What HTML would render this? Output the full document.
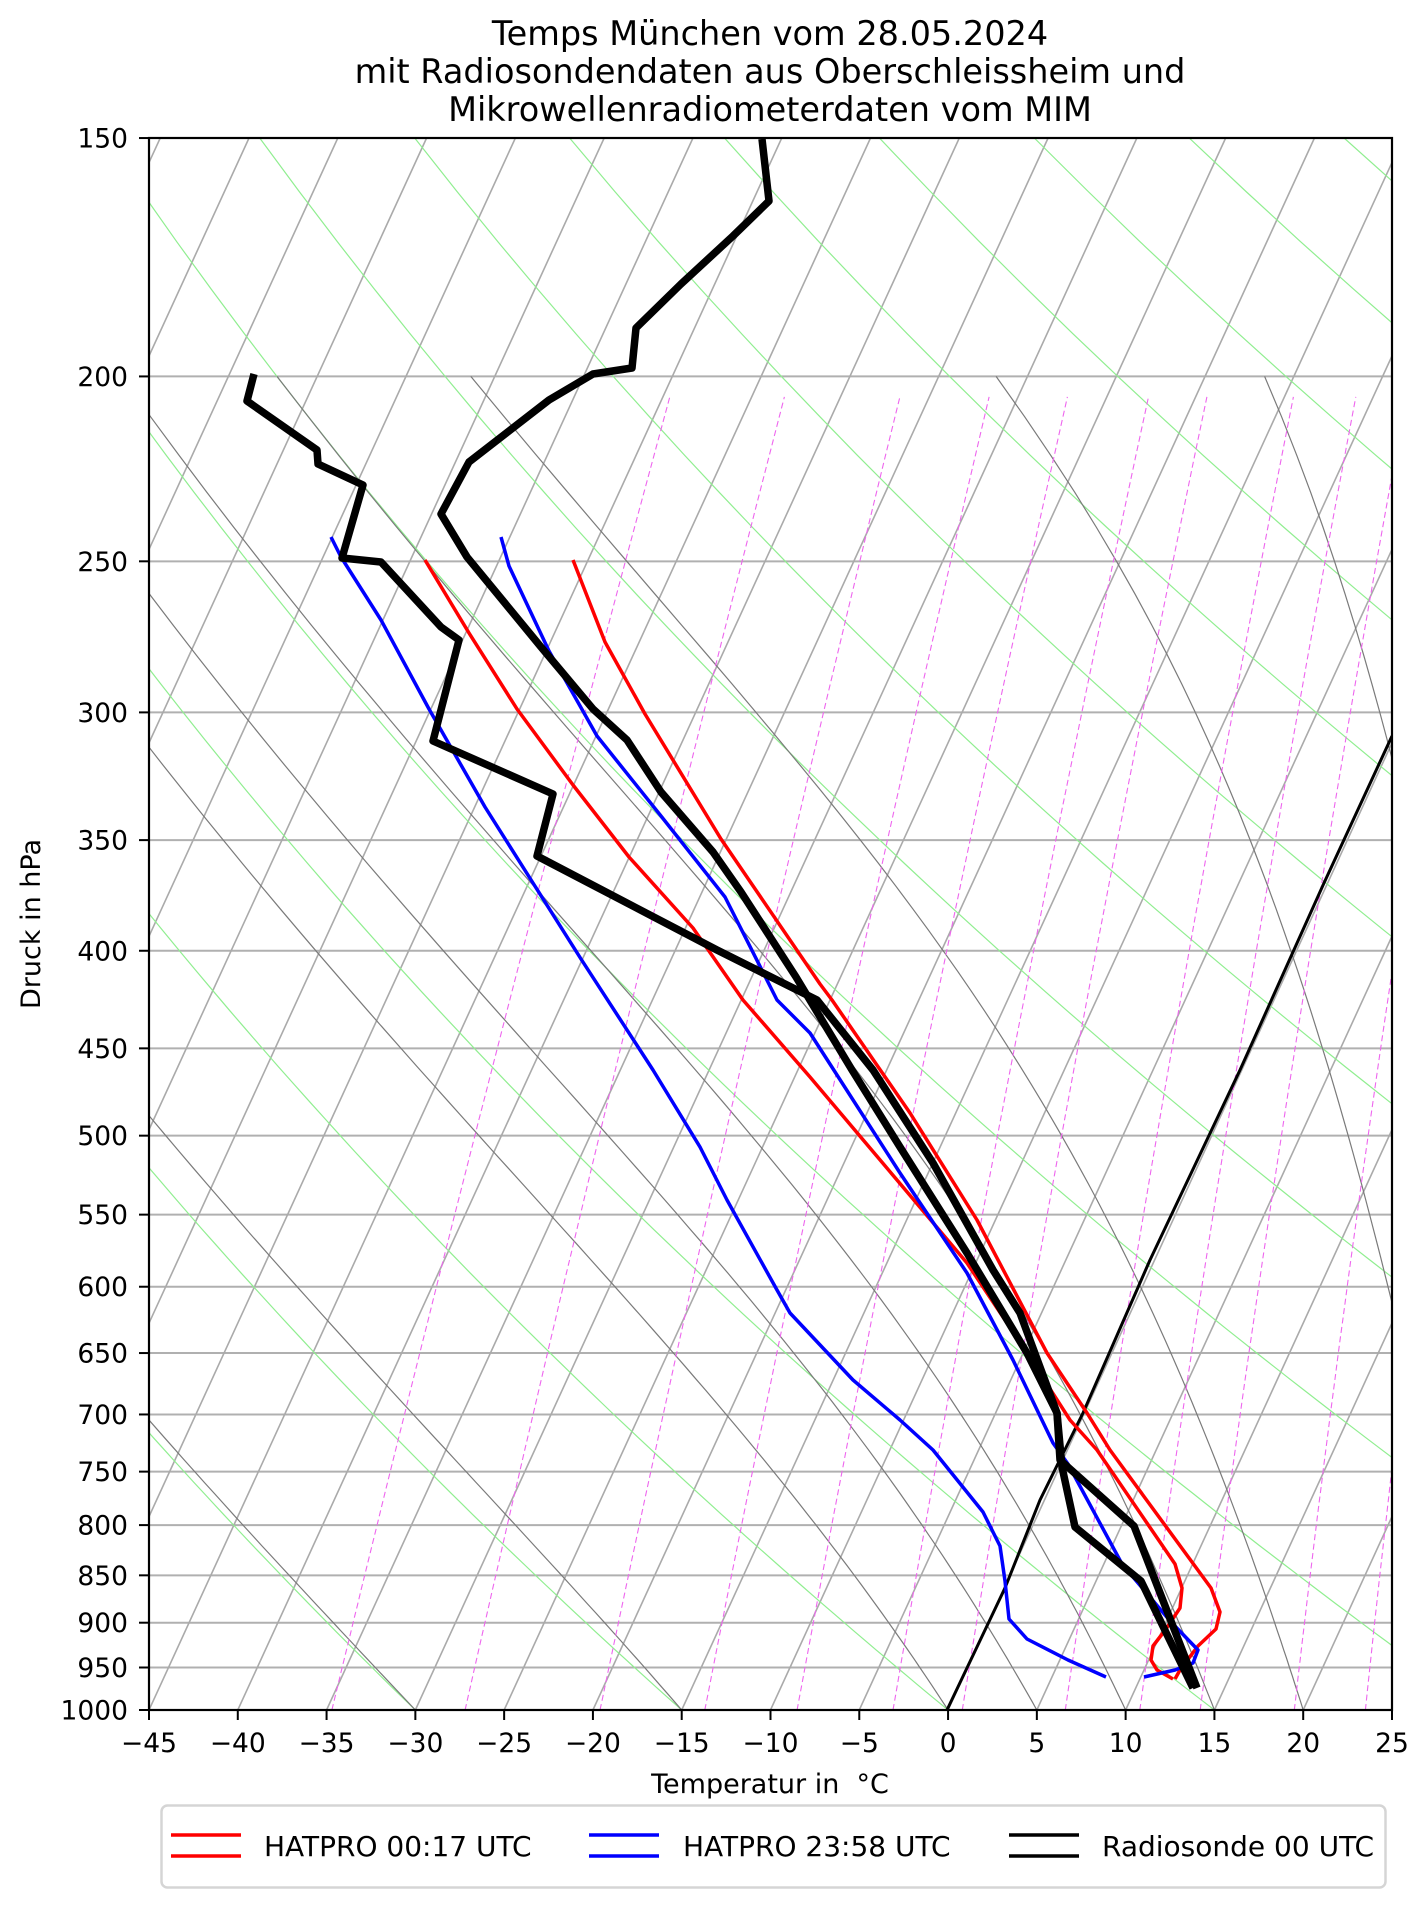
<!DOCTYPE html>
<html><head><meta charset="utf-8"><style>
html,body{margin:0;padding:0;background:#fff;}
svg{display:block;}
text{font-family:"DejaVu Sans","Liberation Sans",sans-serif;fill:#000;}
</style></head><body>
<svg id="s" width="1427" height="1907" viewBox="0 0 1427 1907" xmlns="http://www.w3.org/2000/svg">
<defs><clipPath id="c"><rect x="149" y="138" width="1243" height="1572"/></clipPath></defs>
<rect width="1427" height="1907" fill="#fff"/>
<g id="bg" clip-path="url(#c)"></g>
<g clip-path="url(#c)" fill="none" stroke-linejoin="round" stroke-linecap="butt">
<polyline stroke="#000" stroke-width="3" points="947,1710 1005,1588 1040,1500 1083,1413 1150,1260 1240,1070 1324,883 1392,736"/>
<polyline stroke="#f00" stroke-width="3.5" points="573,560 605,642 645,714 721,839 820,984 832,1000 910,1113 977,1220 1047,1353 1087,1413 1110,1450 1148,1502 1211,1588 1220,1612 1216,1629 1198,1646 1180,1670 1175,1679"/>
<polyline stroke="#f00" stroke-width="3.5" points="425,560 469,633 517,709 573,785 629,857 693,928 743,1000 810,1077 897,1180 967,1263 1027,1353 1070,1420 1097,1450 1175,1564 1182,1588 1180,1608 1166,1629 1153,1646 1151,1660 1157,1670 1173,1679"/>
<polyline stroke="#00f" stroke-width="3.5" points="501,537 509,566 549,651 597,736 661,816 725,897 777,1000 810,1033 900,1173 967,1273 1013,1360 1053,1443 1068,1464 1122,1564 1171,1622 1198,1650 1193,1663 1175,1670 1144,1677"/>
<polyline stroke="#00f" stroke-width="3.5" points="331,537 341,557 381,620 429,709 485,807 533,883 581,959 653,1070 700,1147 727,1200 777,1290 790,1313 853,1380 900,1420 933,1450 983,1512 1000,1546 1005,1581 1009,1619 1027,1639 1068,1660 1106,1677"/>
<polyline stroke="#000" stroke-width="7.5" points="762,139 769,201 733,236 681,284 636,328 632,368 593,374 549,400 469,462 441,514 467,557 541,647 593,709 627,740 661,792 713,852 741,892 796,977 852,1070 900,1147 967,1253 1027,1353 1057,1413 1062,1467 1075,1527 1141,1581 1193,1688"/>
<polyline stroke="#000" stroke-width="7.5" points="254,374 247,401 317,450 318,464 363,485 342,558 381,562 441,627 459,640 433,741 553,794 537,856 717,950 817,1000 873,1070 933,1163 993,1270 1020,1313 1057,1413 1060,1460 1134,1526 1197,1688"/>
</g>
<g id="ax"></g>
<g font-size="33.5" text-anchor="middle">
<text x="770" y="45">Temps München vom 28.05.2024</text>
<text x="770" y="83">mit Radiosondendaten aus Oberschleissheim und</text>
<text x="770" y="121">Mikrowellenradiometerdaten vom MIM</text>
</g>
<text id="xl" x="770" y="1793" font-size="27" text-anchor="middle" xml:space="preserve">Temperatur in  °C</text>
<text transform="translate(40,924) rotate(-90)" font-size="27" text-anchor="middle">Druck in hPa</text>
<rect x="161.5" y="1805.5" width="1224" height="82" rx="6" fill="#fff" stroke="#d5d5d5" stroke-width="2.5"/>
<g stroke-width="3.5">
<line x1="171" y1="1835" x2="241" y2="1835" stroke="#f00"/><line x1="171" y1="1856" x2="241" y2="1856" stroke="#f00"/>
<line x1="589" y1="1835" x2="659" y2="1835" stroke="#00f"/><line x1="589" y1="1856" x2="659" y2="1856" stroke="#00f"/>
<line x1="1009" y1="1835" x2="1079" y2="1835" stroke="#000"/><line x1="1009" y1="1856" x2="1079" y2="1856" stroke="#000"/>
</g>
<g font-size="28">
<text x="264" y="1856">HATPRO 00:17 UTC</text>
<text x="683" y="1856">HATPRO 23:58 UTC</text>
<text x="1102" y="1856">Radiosonde 00 UTC</text>
</g>
</svg>
<script>
(function(){
var NS="http://www.w3.org/2000/svg";
function Y(p){return 1710-828.6*Math.log(1000/p);}
function X(T,p){return 149+(T+45)*17.757+(1710-Y(p))*0.459;}
var bg=document.getElementById('bg'),ax=document.getElementById('ax');
function el(par,tag,attrs,txt){var e=document.createElementNS(NS,tag);for(var k in attrs)e.setAttribute(k,attrs[k]);if(txt!=null)e.textContent=txt;par.appendChild(e);return e;}
function poly(par,pts,attrs){attrs.points=pts.map(function(q){return q[0].toFixed(1)+','+q[1].toFixed(1);}).join(' ');attrs.fill='none';el(par,'polyline',attrs);}
for(var p=150;p<=1000;p+=50){el(bg,'line',{x1:149,x2:1392,y1:Y(p),y2:Y(p),stroke:'#b0b0b0','stroke-width':2});}
for(var T=-160;T<=25;T+=5){el(bg,'line',{x1:X(T,1000),y1:1710,x2:X(T,150),y2:138,stroke:'#aaaaaa','stroke-width':1.6});}
for(var T0=-30;T0<=300;T0+=15){var pts=[];for(var p=1000;p>=150;p-=10){var t=(T0+273.15)*Math.pow(p/1000,0.2857)-273.15;pts.push([X(t,p),Y(p)]);}poly(bg,pts,{stroke:'#90ee90','stroke-width':1.2});}
function dTdp(p,T){var es=6.112*Math.exp(17.67*(T-273.15)/(T-29.65));var rs=0.622*es/(p-es);var L=2.501e6;var num=(287.04*T+L*rs)/p;var den=1005.7+(L*L*rs*0.622)/(287.04*T*T);return num/den;}
[-30,-15,0,5,10,15,20,25,30,35].forEach(function(T0){var T=T0+273.15,p=1000,pts=[[X(T0,1000),1710]];var dp=-2;while(p>200){var k1=dTdp(p,T);var k2=dTdp(p+dp,T+dp*k1);T+=dp*(k1+k2)/2;p+=dp;if(p%10==0)pts.push([X(T-273.15,p),Y(p)]);}
var xe=pts[pts.length-1][0];if(xe>540&&xe<850)return;
poly(bg,pts,{stroke:'#7a7a7a','stroke-width':1.2});});
[-34.7,-27.2,-19.6,-13.7,-8.5,-3.1,0.8,6.6,10.8,14.2,19.5,23.5].forEach(function(td){var e0=6.112*Math.exp(17.67*td/(td+243.5));var w=0.622*e0/(1000-e0);var pts=[];for(var p=1000;p>=205;p-=15){var e=w*p/(0.622+w);var l=Math.log(e/6.112);var t=243.5*l/(17.67-l);pts.push([X(t,p),Y(p)]);}poly(bg,pts,{stroke:'#ee66ee','stroke-width':1.1,'stroke-dasharray':'6,3.5'});});
el(ax,'rect',{x:149,y:138,width:1243,height:1572,fill:'none',stroke:'#000','stroke-width':2.2});
for(var p=150;p<=1000;p+=50){var y=Y(p);el(ax,'line',{x1:139,x2:149,y1:y,y2:y,stroke:'#000','stroke-width':2});el(ax,'text',{x:128,y:y+9.5,'font-size':26.5,'text-anchor':'end'},String(p));}
for(var T=-45;T<=25;T+=5){var x=149+(T+45)*17.757;el(ax,'line',{x1:x,x2:x,y1:1710,y2:1720,stroke:'#000','stroke-width':2});el(ax,'text',{x:x,y:1752,'font-size':26.5,'text-anchor':'middle'},(T<0?'\u2212'+(-T):String(T)));}
})();
</script>
</body></html>
